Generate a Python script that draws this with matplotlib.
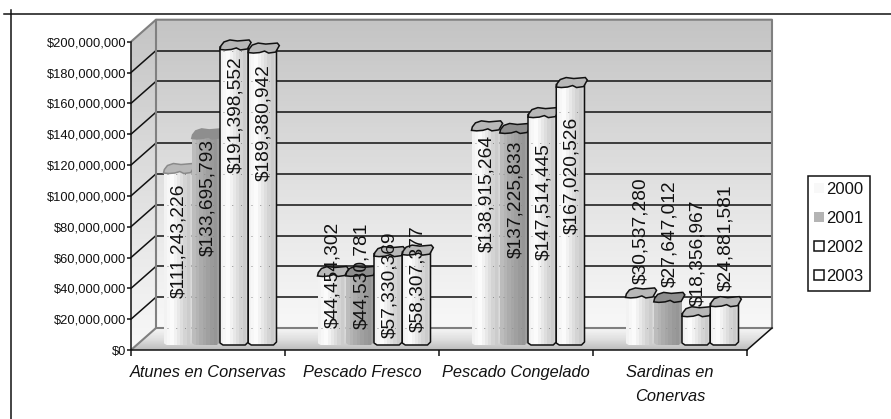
import numpy as np
import matplotlib
matplotlib.use("Agg")
import matplotlib.pyplot as plt
from matplotlib.colors import LinearSegmentedColormap, ListedColormap
from matplotlib.lines import Line2D
from matplotlib.patches import Patch, Polygon
from matplotlib.ticker import FuncFormatter

plt.rcParams['font.family'] = ['Liberation Sans', 'DejaVu Sans']

categories = ['Atunes en Conservas', 'Pescado Fresco', 'Pescado Congelado', 'Sardinas en\nConervas']
years = ['2000', '2001', '2002', '2003']
values_2000 = [111243226, 44454302, 138915264, 30537280]
values_2001 = [133695793, 44530781, 137225833, 27647012]
values_2002 = [191398552, 57330369, 147514445, 18356967]
values_2003 = [189380942, 58307377, 167020526, 24881581]
series = [values_2000, values_2001, values_2002, values_2003]

# how far each value label sits above the top of its bar, in pixels
label_lift = [
    [-67, 2, -63, 67],
    [-59, 1, -66, 69],
    [-65, -28, -84, 64],
    [-69, -24, -88, 69],
]

light_bands = ['#f2f2f2', '#f7f7f7', '#fbfbfb', '#f2f2f2', '#e8e8e8', '#dedede', '#d4d4d4', '#cccccc', '#d4d4d4']
dark_bands = ['#bcbcbc', '#b4b4b4', '#acacac', '#a6a6a6', '#a0a0a0', '#9a9a9a', '#969696', '#9e9e9e']

INK = '#111111'
LW = 1.1

fig = plt.figure(figsize=(8.91, 4.19), dpi=100)
ax = fig.add_axes([131 / 891, 1 - 350 / 419, 616 / 891, 308.3 / 419])

# one pixel in data units
PX = 1 / 154
PY = 200e6 / 308.3
DEPTH_X = 25 * PX
DEPTH_Y = 22 * PY
TOP = 200e6


def shaded(poly, image, cmap, extent, zorder):
    """Paint an image of colour indices inside a polygon given in data coordinates."""
    clip = Polygon(poly, closed=True, transform=ax.transData)
    im = ax.imshow(image, cmap=cmap, extent=extent, aspect='auto', zorder=zorder,
                   origin='upper', interpolation='nearest')
    im.set_clip_box(fig.bbox)
    im.set_clip_path(clip)
    return im


ramp = np.linspace(0, 1, 200)[:, None]
wall_cmap = LinearSegmentedColormap.from_list('wall', ['#c4c4c4', '#d6d6d6', '#e8e8e8', '#f8f8f8'])
floor_cmap = LinearSegmentedColormap.from_list('floor', ['#f6f6f6', '#e0e0e0', '#bcbcbc'])

# back wall, side wall and floor
back = [(DEPTH_X, DEPTH_Y), (4 + DEPTH_X, DEPTH_Y), (4 + DEPTH_X, TOP + DEPTH_Y), (DEPTH_X, TOP + DEPTH_Y)]
side = [(0, 0), (DEPTH_X, DEPTH_Y), (DEPTH_X, TOP + DEPTH_Y), (0, TOP)]
floor = [(0, 0), (4, 0), (4 + DEPTH_X, DEPTH_Y), (DEPTH_X, DEPTH_Y)]
shaded(back, ramp, wall_cmap, (DEPTH_X, 4 + DEPTH_X, DEPTH_Y, TOP + DEPTH_Y), 1)
shaded(side, ramp, wall_cmap, (0, DEPTH_X, 0, TOP + DEPTH_Y), 1)
shaded(floor, ramp, floor_cmap, (0, 4 + DEPTH_X, 0, DEPTH_Y), 1)

for level in np.arange(20e6, TOP, 20e6):
    ax.plot([DEPTH_X, 4 + DEPTH_X - 1 * PX], [level + DEPTH_Y] * 2, color=INK, lw=LW, zorder=2, clip_on=False)
    ax.plot([0, DEPTH_X], [level, level + DEPTH_Y], color=INK, lw=LW, zorder=2, clip_on=False)

wall_edge = '#808080'
ax.plot([0, DEPTH_X, 4 + DEPTH_X, 4 + DEPTH_X], [TOP, TOP + DEPTH_Y, TOP + DEPTH_Y, DEPTH_Y],
        color=wall_edge, lw=1.5, zorder=3, clip_on=False)
ax.plot([DEPTH_X, DEPTH_X], [TOP + DEPTH_Y, DEPTH_Y], color=wall_edge, lw=1.5, zorder=3, clip_on=False)
ax.plot([0, DEPTH_X, 4 + DEPTH_X], [0, DEPTH_Y, DEPTH_Y], color=wall_edge, lw=1.5, zorder=3, clip_on=False)
ax.plot([4, 4 + DEPTH_X], [0, DEPTH_Y], color=INK, lw=LW, zorder=3, clip_on=False)

BAR_W = 28.25 * PX
BAR_START = 32.5 * PX
BASE = 5 * PY
CHAMFER = 3

# outline of the column top, as fractions of the bar width and pixels above its rim
cap_shape = [(0.0, 0.5), (0.03, 4), (0.14, 8), (0.35, 10), (0.62, 9), (1.03, 10), (1.1, 7.5), (0.97, 1),
             (0.72, 0), (0.58, 2), (0.4, 0.5), (0.18, 0)]

z = 5
for s, vals in enumerate(series):
    for c, v in enumerate(vals):
        left = c + BAR_START + s * BAR_W
        right = left + BAR_W
        top = BASE + v
        # the column runs a little past the rim so the wavy cap sits on it without a gap
        head = top + 3 * PY
        side_line = [(left, head), (left, BASE + 2 * PY), (left + CHAMFER * PX, BASE),
                     (right - CHAMFER * PX, BASE), (right, BASE + CHAMFER * PY), (right, head)]
        bands = dark_bands if s == 1 else light_bands
        shaded(side_line, np.arange(len(bands))[None, :], ListedColormap(bands), (left, right, BASE, head), z)

        # faint dots where the grid shows through the column
        for level in np.arange(0, TOP + 1, 20e6):
            if level + DEPTH_Y < top:
                ax.plot([left + 3 * PX, right - 2 * PX], [level + DEPTH_Y] * 2, color='#8c8c8c',
                        lw=0.7, ls=(0, (1, 8)), zorder=z + 0.1, clip_on=False)

        if s >= 2:
            xs, ys = zip(*side_line)
            ax.plot(xs, ys, color=INK, lw=LW, zorder=z + 0.2, clip_on=False)

        cap = [(left + fx * BAR_W, top + dy * PY) for fx, dy in cap_shape]
        cap_color = '#8e8e8e' if s == 1 else '#b8b8b8'
        if c == 0 and s == 1:
            edge = '#8e8e8e'
        elif c == 0 and s == 0:
            edge = '#8a8a8a'
        else:
            edge = INK
        ax.add_patch(Polygon(cap, closed=True, facecolor=cap_color, edgecolor=edge, lw=LW,
                             zorder=z + 0.3, clip_on=False))
        z += 1

# value labels go on top of everything
for s, vals in enumerate(series):
    for c, v in enumerate(vals):
        xc = c + BAR_START + (s + 0.5) * BAR_W + 1.5 * PX
        ax.annotate(f'${v:,}', xy=(xc, BASE + v), xytext=(0, label_lift[s][c]), textcoords='offset pixels',
                    rotation=90, ha='center', va='center', fontsize=13.8, color=INK,
                    zorder=100, annotation_clip=False)

ax.set_xlim(0, 4)
ax.set_ylim(0, TOP)
ax.set_facecolor('none')
for name in ['top', 'right']:
    ax.spines[name].set_visible(False)
for name in ['left', 'bottom']:
    ax.spines[name].set_linewidth(LW)
    ax.spines[name].set_color(INK)
    ax.spines[name].set_zorder(4)

ax.set_yticks(np.arange(0, TOP + 1, 20e6))
ax.yaxis.set_major_formatter(FuncFormatter(lambda v, _: f'${v:,.0f}'))
ax.tick_params(axis='y', length=3, width=LW, pad=0.5, labelsize=9.3, color=INK, labelcolor=INK)
ax.set_xticks(np.arange(5))
ax.set_xticklabels([])
ax.tick_params(axis='x', which='major', length=4.5, width=LW, color=INK)
ax.set_xticks(np.arange(4) + 0.5, minor=True)
ax.set_xticklabels(categories, minor=True, style='italic', fontsize=11.8, color=INK, linespacing=1.75, va='top')
ax.tick_params(axis='x', which='minor', length=0, pad=10.5)

# rules along the top and left of the page
fig.add_artist(Line2D([4 / 891, 1], [1 - 14 / 419] * 2, color=INK, lw=LW))
fig.add_artist(Line2D([11 / 891] * 2, [1 - 10 / 419, 0], color=INK, lw=LW))

handles = [
    Patch(facecolor='#f8f8f8', edgecolor='none'),
    Patch(facecolor='#b4b4b4', edgecolor='none'),
    Patch(facecolor='white', edgecolor=INK, lw=LW),
    Patch(facecolor='white', edgecolor=INK, lw=LW),
]
leg = fig.legend(handles, years, loc='upper left', bbox_to_anchor=(808 / 891, 1 - 176 / 419),
                 borderaxespad=0, fontsize=12, frameon=True, fancybox=False, framealpha=1,
                 edgecolor=INK, handlelength=0.55, handleheight=0.55, handletextpad=0.15,
                 labelspacing=0.84, borderpad=0.38, labelcolor=INK)
leg.get_frame().set_linewidth(LW)

fig.savefig('out.png', dpi=100)
